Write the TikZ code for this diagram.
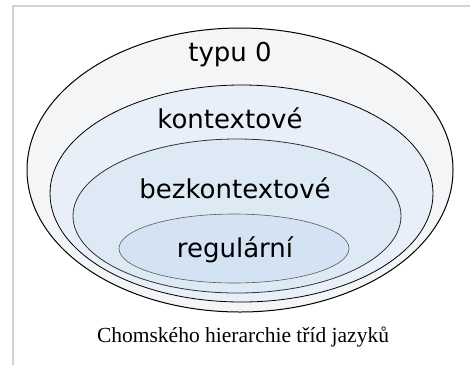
\documentclass[tikz,border=0pt]{standalone}
\usepackage{fontspec}
\setmainfont{DejaVu Sans}
\newfontfamily\capfont{Liberation Serif}
\definecolor{frame}{RGB}{212,212,212}
\definecolor{fillA}{RGB}{244,245,247}
\definecolor{fillB}{RGB}{232,239,248}
\definecolor{fillC}{RGB}{222,233,246}
\definecolor{fillD}{RGB}{212,227,244}
\definecolor{strokeD}{RGB}{90,90,90}
\tikzset{
  lang/.style={font=\fontsize{26}{30}\selectfont, text=black, inner sep=0pt},
  captiontext/.style={font=\capfont\fontsize{21.5}{25}\selectfont, text=black, inner sep=0pt}
}
\begin{document}
\begin{tikzpicture}[x=1pt,y=-1pt]
\useasboundingbox (0,0) rectangle (470,365);
\fill[white] (0,0) rectangle (470,365);
\draw[frame, line width=1.5pt] (13,365) -- (13,6) -- (470,6);
% ellipses
\filldraw[fill=fillA, draw=black, line width=1pt] (240,170) ellipse [x radius=213, y radius=142];
\filldraw[fill=fillB, draw=black, line width=0.8pt] (241.5,193.5) ellipse [x radius=191.5, y radius=108.5];
\filldraw[fill=fillC, draw=black!80, line width=0.8pt] (237,216) ellipse [x radius=164, y radius=77];
\filldraw[fill=fillD, draw=strokeD, line width=0.6pt] (234,248.5) ellipse [x radius=115, y radius=34.5];
% labels
\node[lang] (t0) at (230,55) {typu 0};
\node[lang] (t1) at (230,118) {kontextové};
\node[lang] (t2) at (235,188) {bezkontextové};
\node[lang] (t3) at (235,250) {regulární};
\node[captiontext] (c) at (243,337) {Chomského hierarchie tříd jazyků};
\end{tikzpicture}
\end{document}
